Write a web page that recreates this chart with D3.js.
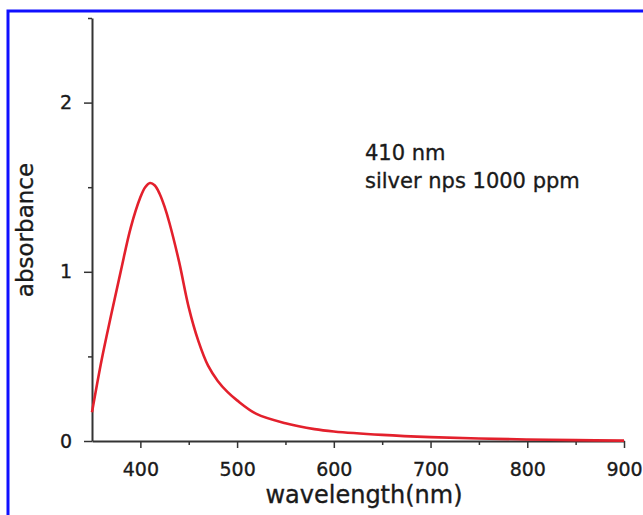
<!DOCTYPE html>
<html>
<head>
<meta charset="utf-8">
<script src="https://cdn.jsdelivr.net/npm/d3@7"></script>
<style>
  body { margin: 0; background: #fff; }
  text { font-family: "DejaVu Sans", sans-serif; fill: #1a1a1a; stroke: #1a1a1a; stroke-width: 0.35px; }
</style>
</head>
<body>
<div id="chart"></div>
<script>
// wavelength (nm) and absorbance
const wavelength = [350, 360, 370, 380, 390, 400, 405, 410, 415, 420, 425, 430, 440, 450, 460, 470, 480, 490, 500, 520, 550, 580, 600, 650, 700, 750, 800, 850, 900];
const absorbance = [0.17, 0.48, 0.75, 1.01, 1.26, 1.44, 1.50, 1.525, 1.51, 1.46, 1.385, 1.29, 1.06, 0.79, 0.59, 0.445, 0.355, 0.29, 0.24, 0.16, 0.105, 0.07, 0.056, 0.036, 0.023, 0.015, 0.009, 0.005, 0.002];
const xMajorTicks = [400, 500, 600, 700, 800, 900];
const xMinorTicks = [450, 550, 650, 750, 850];
const yMajorTicks = [0, 1, 2];
const yMinorTicks = [0.5, 1.5, 2.5];
const annotation = ["410 nm", "silver nps 1000 ppm"];

const width = 643;
const height = 515;

const svg = d3
  .select("#chart")
  .append("svg")
  .attr("width", width)
  .attr("height", height);

// blue frame
svg
  .append("rect")
  .attr("x", 8)
  .attr("y", 11)
  .attr("width", 700)
  .attr("height", 600)
  .attr("fill", "none")
  .attr("stroke", "#1010ff")
  .attr("stroke-width", 3);

const x = d3.scaleLinear().domain([350, 900]).range([92, 624]);
const y = d3.scaleLinear().domain([0, 2.5]).range([441, 18]);

// Axes
const xAxis = svg
  .append("g")
  .attr("transform", `translate(0, ${y(0)})`)
  .call(d3.axisBottom(x).tickValues(xMajorTicks).tickSize(7).tickSizeOuter(0));
xAxis
  .selectAll(".tick text")
  .attr("y", 35)
  .attr("dy", 0)
  .attr("font-size", 19);

svg
  .append("g")
  .attr("transform", `translate(0, ${y(0)})`)
  .call(d3.axisBottom(x).tickValues(xMinorTicks).tickSize(4).tickFormat(""))
  .select(".domain")
  .remove();

const yAxis = svg
  .append("g")
  .attr("transform", `translate(${x(350)}, 0)`)
  .call(d3.axisLeft(y).tickValues(yMajorTicks).tickSize(8).tickSizeOuter(0).tickFormat(d3.format("d")));
yAxis
  .selectAll(".tick text")
  .attr("x", -20)
  .attr("font-size", 19);

svg
  .append("g")
  .attr("transform", `translate(${x(350)}, 0)`)
  .call(d3.axisLeft(y).tickValues(yMinorTicks).tickSize(4).tickFormat(""))
  .select(".domain")
  .remove();

svg.selectAll(".domain").attr("stroke", "#333").attr("stroke-width", 2);
svg.selectAll(".tick line").attr("stroke", "#333").attr("stroke-width", 1.5);
svg.selectAll(".tick text").attr("fill", "#1a1a1a");

// Spectrum
const points = wavelength.map((w, i) => ({ w: w, a: absorbance[i] }));
const line = d3
  .line()
  .x((d) => x(d.w))
  .y((d) => y(d.a))
  .curve(d3.curveCatmullRom.alpha(0.5));

svg
  .append("path")
  .datum(points)
  .attr("fill", "none")
  .attr("stroke", "#e3202c")
  .attr("stroke-width", 2.6)
  .attr("d", line);

// Axis titles
svg
  .append("text")
  .attr("x", 364)
  .attr("y", 503)
  .attr("text-anchor", "middle")
  .attr("font-size", 24)
  .text("wavelength(nm)");

svg
  .append("text")
  .attr("transform", "translate(33, 230) rotate(-90)")
  .attr("text-anchor", "middle")
  .attr("font-size", 23)
  .text("absorbance");

// Annotation
svg
  .selectAll(".note")
  .data(annotation)
  .enter()
  .append("text")
  .attr("class", "note")
  .attr("x", 365)
  .attr("y", (d, i) => 160 + i * 28)
  .attr("font-size", 21)
  .text((d) => d);
</script>
</body>
</html>
